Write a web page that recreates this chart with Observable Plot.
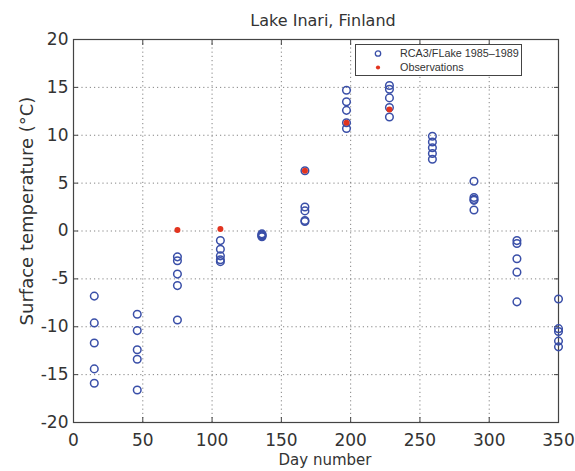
<!DOCTYPE html>
<html>
<head>
<meta charset="utf-8">
<script src="https://cdn.jsdelivr.net/npm/d3@7"></script>
<script src="https://cdn.jsdelivr.net/npm/@observablehq/plot@0.6"></script>
<style>
  html, body { margin: 0; padding: 0; background: #fff; }
  #chart { position: relative; width: 575px; height: 471px; font-family: "DejaVu Sans", sans-serif; }
  #legend {
    position: absolute; left: 355px; top: 44px; width: 167px; height: 32px;
    border: 1px solid #444; background: #fff; box-sizing: border-box;
    font-family: "Liberation Sans", Arial, sans-serif; font-size: 10.8px; color: #333;
  }
  #legend .row { position: absolute; left: 0; height: 13px; line-height: 13px; white-space: nowrap; }
  #legend svg { position: absolute; left: 16px; top: 0; }
  #legend span { position: absolute; left: 44px; }
</style>
</head>
<body>
<div id="chart"></div>
<script>
// Mid-month day numbers of the simulated series
const simDays = [15, 46, 75, 106, 136, 167, 197, 228, 259, 289, 320, 350];
// RCA3/FLake surface temperature, one value per year 1985–1989, for each day above
const sim1985 = [-6.8, -8.7, -2.7, -1.0, -0.4, 6.3, 14.7, 15.2, 9.9, 5.2, -1.0, -7.1];
const sim1986 = [-9.6, -10.4, -3.1, -1.9, -0.5, 2.5, 13.5, 14.8, 9.3, 3.5, -1.3, -10.2];
const sim1987 = [-11.7, -12.4, -4.5, -2.6, -0.6, 2.1, 12.6, 13.9, 8.7, 3.3, -2.9, -10.5];
const sim1988 = [-14.4, -13.4, -5.7, -3.0, -0.5, 1.1, 11.3, 12.9, 8.1, 3.2, -4.3, -11.5];
const sim1989 = [-15.9, -16.6, -9.3, -3.2, -0.3, 1.0, 10.7, 11.9, 7.5, 2.2, -7.4, -12.1];
// Observed surface temperature
const obsDays = [75, 106, 167, 197, 228];
const obsTemps = [0.1, 0.2, 6.3, 11.3, 12.7];

const xTicks = [0, 50, 100, 150, 200, 250, 300, 350];
const yTicks = [-20, -15, -10, -5, 0, 5, 10, 15, 20];

const simulated = [sim1985, sim1986, sim1987, sim1988, sim1989].flatMap((vals) =>
  vals.map((t, i) => ({day: simDays[i], temp: t}))
);
const observed = obsDays.map((d, i) => ({day: d, temp: obsTemps[i]}));

const axisColor = "#444";
const textColor = "#333";
const blue = "#3a4fa8";
const red = "#e2341f";

const plot = Plot.plot({
  width: 575,
  height: 471,
  marginTop: 39,
  marginBottom: 49,
  marginLeft: 73,
  marginRight: 17,
  style: {fontFamily: "DejaVu Sans, sans-serif", fontSize: "17px", color: textColor, background: "#fff"},
  x: {domain: [0, 350], ticks: xTicks, label: null},
  y: {domain: [-20, 20], ticks: yTicks, label: null},
  marks: [
    Plot.gridX(xTicks.slice(1, -1), {stroke: "#777", strokeOpacity: 0.9, strokeDasharray: "1.2,3"}),
    Plot.gridY(yTicks.slice(1, -1), {stroke: "#777", strokeOpacity: 0.9, strokeDasharray: "1.2,3"}),
    Plot.frame({stroke: axisColor, strokeWidth: 1.2}),
    Plot.axisX({anchor: "bottom", ticks: xTicks, tickSize: -5, tickPadding: 16, stroke: axisColor, fill: textColor, fontSize: 17, label: null}),
    Plot.axisX({anchor: "top", ticks: xTicks, tickSize: -5, tickFormat: () => "", stroke: axisColor, label: null}),
    Plot.axisY({anchor: "left", ticks: yTicks, tickSize: -5, tickPadding: 10, stroke: axisColor, fill: textColor, fontSize: 17, tickFormat: (d) => String(d), label: null}),
    Plot.axisY({anchor: "right", ticks: yTicks, tickSize: -5, tickFormat: () => "", stroke: axisColor, label: null}),
    Plot.dot(simulated, {x: "day", y: "temp", r: 3.8, stroke: blue, strokeWidth: 1.5, fill: "none"}),
    Plot.dot(observed, {x: "day", y: "temp", r: 3, fill: red, stroke: "none"}),
    Plot.text(["Lake Inari, Finland"], {frameAnchor: "top", dx: 7, dy: -25, fontSize: 16, fill: textColor}),
    Plot.text(["Day number"], {frameAnchor: "bottom", dx: 9, dy: 42, fontSize: 15, fill: textColor}),
    Plot.text(["Surface temperature (\u00B0C)"], {frameAnchor: "left", textAnchor: "middle", dx: -46, dy: -20, rotate: -90, fontSize: 18, fill: textColor})
  ]
});

const chart = document.getElementById("chart");
chart.appendChild(plot);

// Legend box in the upper right of the plot area
const legend = document.createElement("div");
legend.id = "legend";
legend.innerHTML = `
  <div class="row" style="top:2px"><svg width="12" height="13"><circle cx="6" cy="6.5" r="2.7" fill="none" stroke="${blue}" stroke-width="1.3"/></svg><span>RCA3/FLake 1985\u20131989</span></div>
  <div class="row" style="top:16px"><svg width="12" height="13"><circle cx="6" cy="6.5" r="2.1" fill="${red}"/></svg><span>Observations</span></div>`;
chart.appendChild(legend);
</script>
</body>
</html>
